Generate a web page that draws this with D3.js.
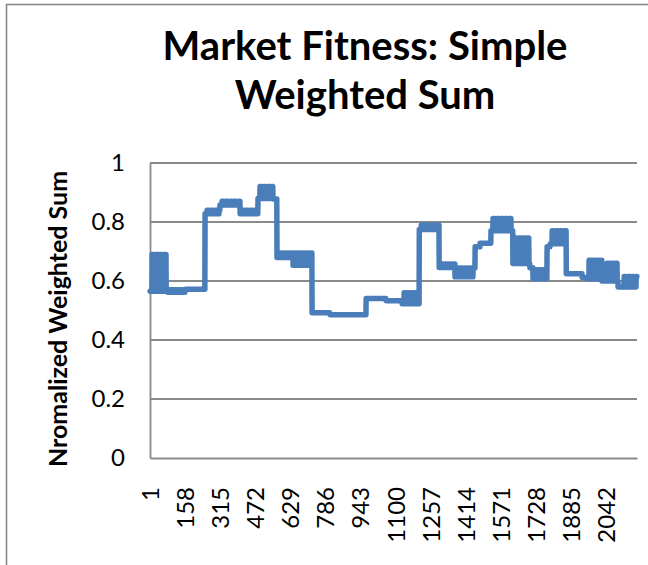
<!DOCTYPE html>
<html>
<head>
<meta charset="utf-8">
<script src="https://cdn.jsdelivr.net/npm/d3@7"></script>
<style>
  html, body { margin: 0; padding: 0; background: #fff; }
  svg text { font-family: Lato, "Open Sans", sans-serif; fill: #000; }
</style>
</head>
<body>
<div id="chart"></div>
<script>
// number of samples on the category axis
var nPoints = 2180;

// the series, run-length encoded:
// each run covers [runStart, runEnd) and the values inside it swing between runLow and runHigh
// (flat runs have runLow == runHigh)
var runStart = [0, 79, 157, 246, 313, 403, 483, 550, 568, 640, 725, 805, 967, 1056, 1128, 1205, 1294, 1365, 1455, 1477, 1526, 1624, 1700, 1714, 1777, 1791, 1863, 1934, 1956, 2023, 2037, 2095, 2113];
var runEnd   = [79, 157, 246, 313, 403, 483, 550, 568, 640, 725, 805, 967, 1056, 1128, 1205, 1294, 1365, 1455, 1477, 1526, 1624, 1700, 1714, 1777, 1791, 1863, 1934, 1956, 2023, 2037, 2095, 2113, 2180];
var runLow   = [0.565, 0.562, 0.572, 0.828, 0.858, 0.828, 0.880, 0.878, 0.680, 0.653, 0.492, 0.486, 0.541, 0.533, 0.523, 0.775, 0.646, 0.614, 0.716, 0.728, 0.770, 0.659, 0.645, 0.608, 0.716, 0.726, 0.625, 0.612, 0.608, 0.600, 0.600, 0.580, 0.580];
var runHigh  = [0.690, 0.570, 0.572, 0.840, 0.870, 0.840, 0.920, 0.878, 0.695, 0.695, 0.492, 0.486, 0.541, 0.533, 0.560, 0.790, 0.658, 0.644, 0.716, 0.728, 0.812, 0.746, 0.645, 0.638, 0.716, 0.770, 0.625, 0.612, 0.670, 0.600, 0.660, 0.580, 0.615];

var xTickLabels = [1, 158, 315, 472, 629, 786, 943, 1100, 1257, 1414, 1571, 1728, 1885, 2042];
var yTicks = [0, 0.2, 0.4, 0.6, 0.8, 1];
var titleLines = ["Market Fitness: Simple", "Weighted Sum"];
var yTitle = "Nromalized Weighted Sum";

var width = 648, height = 565;
var plot = {left: 150, right: 637, top: 163, bottom: 458};
var lineColor = "#4a7ebb";
var gridColor = "#898989";

// expand runs into one value per sample
var series = [];
runStart.forEach(function(s, r) {
    for (var i = s; i < runEnd[r]; i++) {
        var hi = Math.floor((i - s) / 9) % 2 === 1;
        series.push({i: i, v: hi ? runHigh[r] : runLow[r]});
    }
});

var svg = d3.select("#chart").append("svg")
    .attr("width", width)
    .attr("height", height);

svg.append("rect")
    .attr("width", width).attr("height", height)
    .attr("fill", "#fff");

// chart frame (cropped on right and bottom)
svg.append("rect")
    .attr("x", 6.5).attr("y", 4.5)
    .attr("width", 700).attr("height", 700)
    .attr("fill", "none")
    .attr("stroke", gridColor)
    .attr("stroke-width", 1.6);

var x = d3.scaleLinear().domain([0, nPoints]).range([plot.left, plot.right]);
var y = d3.scaleLinear().domain([0, 1]).range([plot.bottom, plot.top]);

// gridlines
svg.append("g").selectAll("line")
    .data(yTicks.slice(1))
    .join("line")
    .attr("x1", plot.left).attr("x2", plot.right)
    .attr("y1", function(d) { return y(d); })
    .attr("y2", function(d) { return y(d); })
    .attr("stroke", gridColor)
    .attr("stroke-width", 1.8);

// y axis
var yAxis = svg.append("g")
    .attr("transform", "translate(" + plot.left + ",0)")
    .call(d3.axisLeft(y).tickValues(yTicks).tickSize(0).tickPadding(25)
        .tickFormat(function(d) { return d3.format("")(+d.toFixed(1)); }));
yAxis.select(".domain").attr("stroke", gridColor).attr("stroke-width", 1.8);
yAxis.selectAll("text")
    .attr("font-size", 24)
    .attr("font-family", "Lato, sans-serif");

// x axis
var xAxis = svg.append("g")
    .attr("transform", "translate(0," + plot.bottom + ")")
    .call(d3.axisBottom(x).tickValues(xTickLabels.map(function(d) { return d - 0.5; }))
        .tickSize(0).tickFormat(function(d) { return String(d + 0.5); }));
xAxis.select(".domain").attr("stroke", gridColor).attr("stroke-width", 1.8);
xAxis.selectAll("text")
    .attr("font-size", 24)
    .attr("font-family", "Lato, sans-serif")
    .attr("text-anchor", "end")
    .attr("dy", "0.35em")
    .attr("y", 0)
    .attr("transform", "translate(0,29) rotate(-90)");

// series line
var line = d3.line()
    .x(function(d) { return x(d.i + 0.5); })
    .y(function(d) { return y(d.v); });

svg.append("path")
    .datum(series)
    .attr("d", line)
    .attr("fill", "none")
    .attr("stroke", lineColor)
    .attr("stroke-width", 5.5)
    .attr("stroke-linejoin", "round")
    .attr("stroke-linecap", "round");

// title
svg.append("g").selectAll("text")
    .data(titleLines)
    .join("text")
    .attr("x", 365)
    .attr("y", function(d, k) { return 60 + k * 49; })
    .attr("text-anchor", "middle")
    .attr("font-size", 40)
    .attr("font-weight", "bold")
    .text(function(d) { return d; });

// y axis title
svg.append("text")
    .attr("transform", "translate(67,319) rotate(-90)")
    .attr("text-anchor", "middle")
    .attr("font-size", 25)
    .attr("font-weight", "bold")
    .text(yTitle);
</script>
</body>
</html>
